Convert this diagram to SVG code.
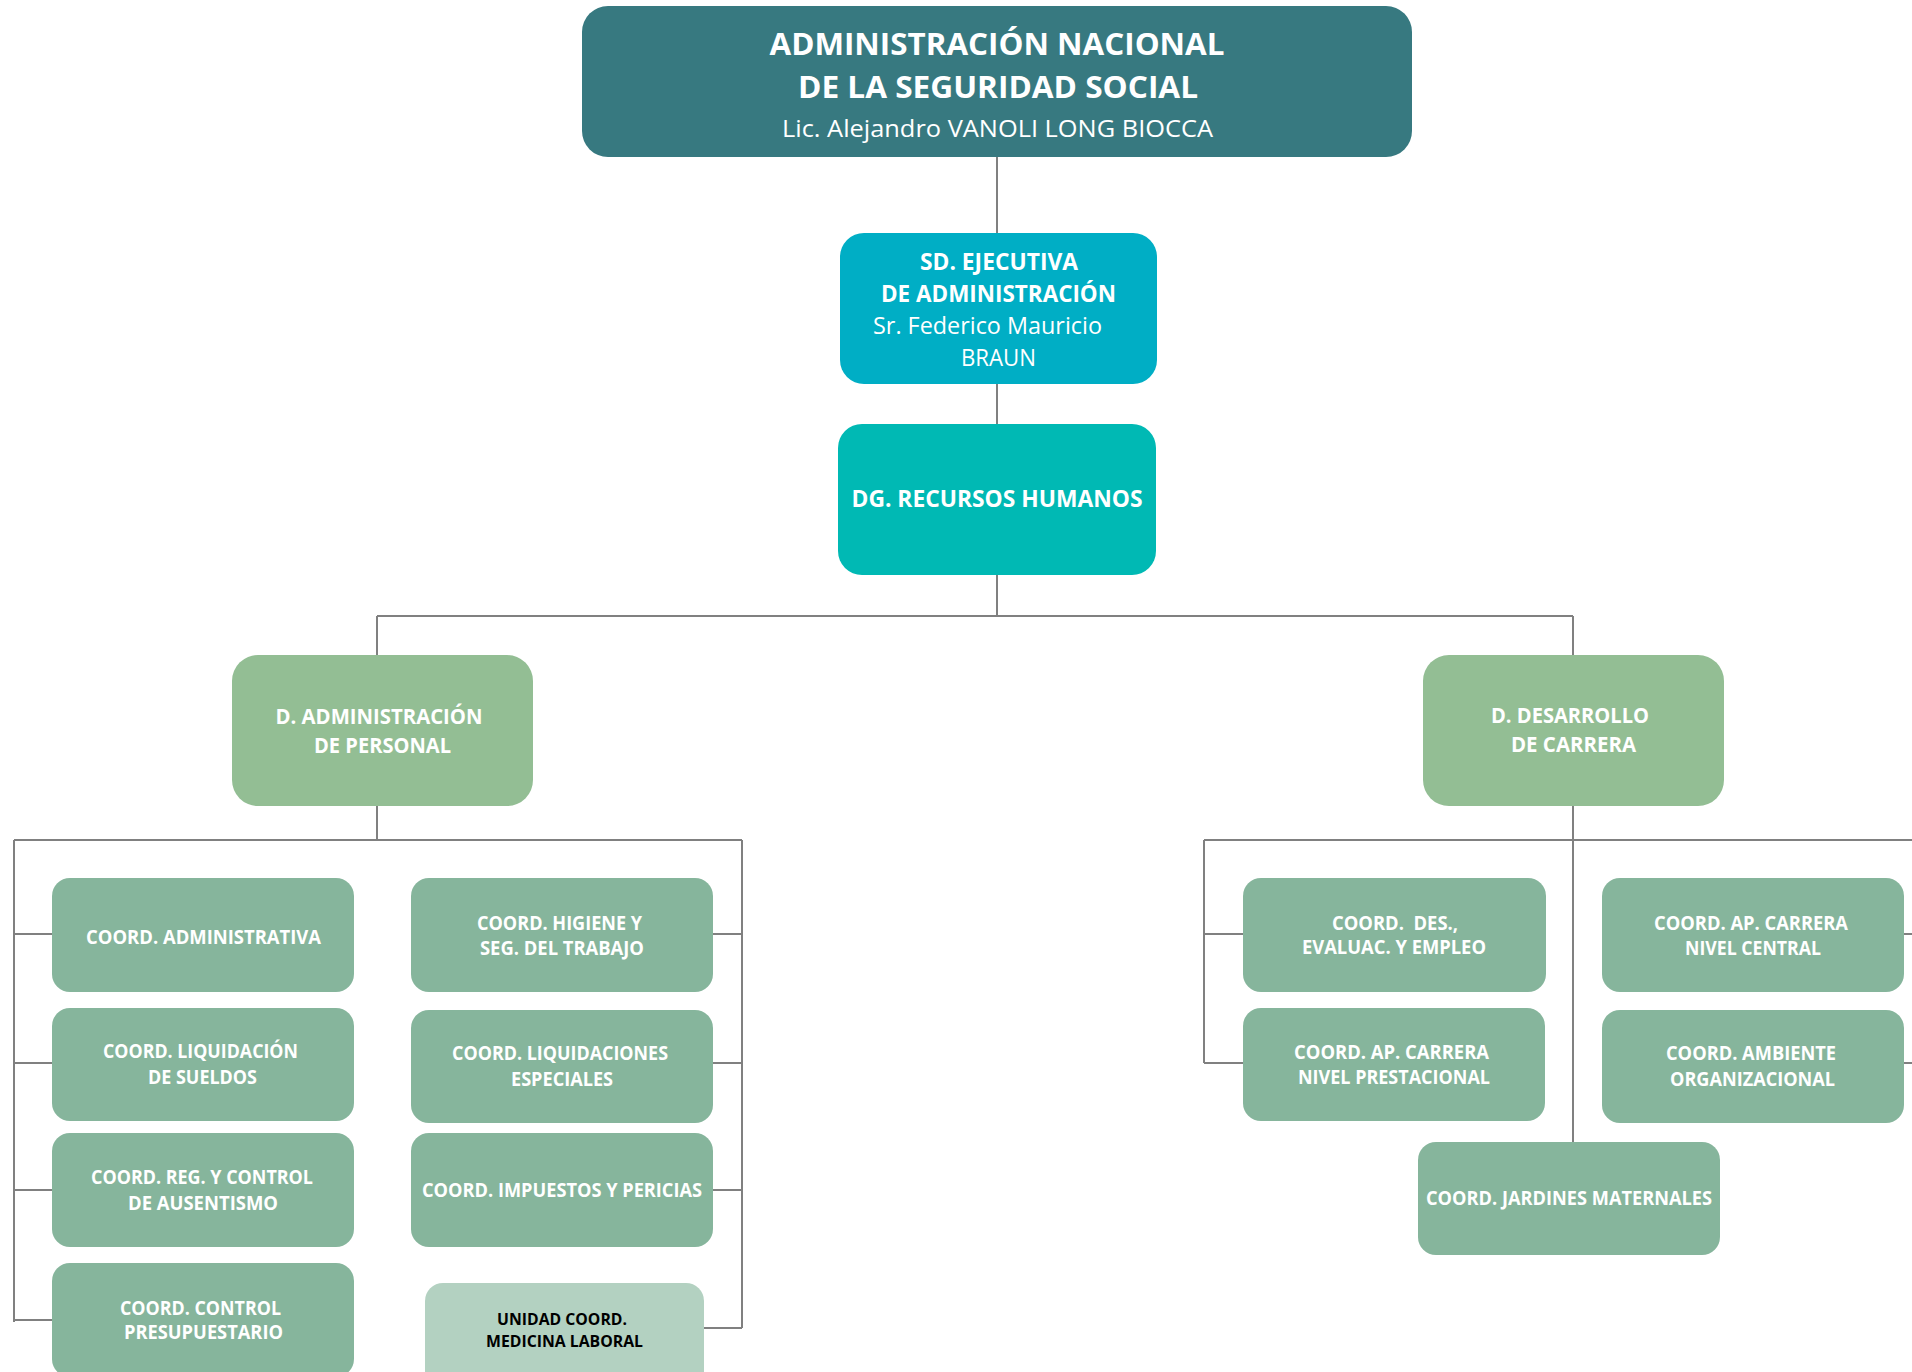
<svg xmlns="http://www.w3.org/2000/svg" width="1912" height="1372" viewBox="0 0 1912 1372">
<style>
.t{font-family:"Open Sans","Noto Sans","Liberation Sans",sans-serif;fill:#ffffff;text-anchor:middle}
.b{font-weight:bold}
.top{fill:#377980}
.sd{fill:#00AEC5}
.dg{fill:#00B9B4}
.d{fill:#93BE94}
.c{fill:#86B59C}
.u{fill:#B3D1C1}
.ln{stroke:#808080;stroke-width:2;fill:none}
.f30{font-size:30px}.f24{font-size:24px}.f23{font-size:23px}.f20{font-size:20.5px}.f18{font-size:19.5px}.f16{font-size:16.5px}
</style>
<rect width="1912" height="1372" fill="#ffffff"/>
<g id="connectors" class="ln">
<path d="M997 157V233M997 384V424M997 575V616M377 616H1573M377 616V655M1573 616V655"/>
<path d="M377 806V840M14 840H742M14 840V1322M742 840V1328M14 934H52M14 1063H52M14 1190H52M14 1320H52M713 934H742M713 1063H742M713 1190H742M704 1328H742"/>
<path d="M1573 806V1142M1204 840H1912M1204 840V1063M1204 934H1243M1204 1063H1243M1904 934H1912M1904 1063H1912"/>
</g>
<g id="n-anses">
<rect class="top" x="582" y="6" width="830" height="151" rx="26"/>
<text class="t b f30" x="997" y="55" textLength="455" lengthAdjust="spacingAndGlyphs">ADMINISTRACIÓN NACIONAL</text>
<text class="t b f30" x="998" y="98" textLength="400" lengthAdjust="spacingAndGlyphs">DE LA SEGURIDAD SOCIAL</text>
<text class="t f24" x="997.5" y="137" textLength="431" lengthAdjust="spacingAndGlyphs">Lic. Alejandro VANOLI LONG BIOCCA</text>
</g>
<g id="n-sd">
<rect class="sd" x="840" y="233" width="317" height="151" rx="24"/>
<text class="t b f23" x="999" y="270" textLength="158" lengthAdjust="spacingAndGlyphs">SD. EJECUTIVA</text>
<text class="t b f23" x="998.5" y="302" textLength="235" lengthAdjust="spacingAndGlyphs">DE ADMINISTRACIÓN</text>
<text class="t f23" x="987.5" y="334" textLength="229" lengthAdjust="spacingAndGlyphs">Sr. Federico Mauricio</text>
<text class="t f23" x="998.5" y="366" textLength="75" lengthAdjust="spacingAndGlyphs">BRAUN</text>
</g>
<g id="n-dg">
<rect class="dg" x="838" y="424" width="318" height="151" rx="24"/>
<text class="t b f23" x="997" y="507" textLength="291" lengthAdjust="spacingAndGlyphs">DG. RECURSOS HUMANOS</text>
</g>
<g id="n-dap">
<rect class="d" x="232" y="655" width="301" height="151" rx="26"/>
<text class="t b f20" x="379" y="724" textLength="207" lengthAdjust="spacingAndGlyphs">D. ADMINISTRACIÓN</text>
<text class="t b f20" x="382.5" y="753" textLength="137" lengthAdjust="spacingAndGlyphs">DE PERSONAL</text>
</g>
<g id="n-ddc">
<rect class="d" x="1423" y="655" width="301" height="151" rx="26"/>
<text class="t b f20" x="1570" y="723" textLength="158" lengthAdjust="spacingAndGlyphs">D. DESARROLLO</text>
<text class="t b f20" x="1573.5" y="752" textLength="125" lengthAdjust="spacingAndGlyphs">DE CARRERA</text>
</g>
<g id="n-cadm">
<rect class="c" x="52" y="878" width="302" height="114" rx="18"/>
<text class="t b f18" x="203.5" y="944" textLength="235" lengthAdjust="spacingAndGlyphs">COORD. ADMINISTRATIVA</text>
</g>
<g id="n-chig">
<rect class="c" x="411" y="878" width="302" height="114" rx="18"/>
<text class="t b f18" x="559.5" y="930" textLength="165" lengthAdjust="spacingAndGlyphs">COORD. HIGIENE Y</text>
<text class="t b f18" x="562" y="955" textLength="164" lengthAdjust="spacingAndGlyphs">SEG. DEL TRABAJO</text>
</g>
<g id="n-cliq">
<rect class="c" x="52" y="1008" width="302" height="113" rx="18"/>
<text class="t b f18" x="200.5" y="1058" textLength="195" lengthAdjust="spacingAndGlyphs">COORD. LIQUIDACIÓN</text>
<text class="t b f18" x="202.5" y="1084" textLength="109" lengthAdjust="spacingAndGlyphs">DE SUELDOS</text>
</g>
<g id="n-cliqesp">
<rect class="c" x="411" y="1010" width="302" height="113" rx="18"/>
<text class="t b f18" x="560" y="1060" textLength="216" lengthAdjust="spacingAndGlyphs">COORD. LIQUIDACIONES</text>
<text class="t b f18" x="562" y="1086" textLength="102" lengthAdjust="spacingAndGlyphs">ESPECIALES</text>
</g>
<g id="n-creg">
<rect class="c" x="52" y="1133" width="302" height="114" rx="18"/>
<text class="t b f18" x="202" y="1184" textLength="222" lengthAdjust="spacingAndGlyphs">COORD. REG. Y CONTROL</text>
<text class="t b f18" x="203" y="1210" textLength="150" lengthAdjust="spacingAndGlyphs">DE AUSENTISMO</text>
</g>
<g id="n-cimp">
<rect class="c" x="411" y="1133" width="302" height="114" rx="18"/>
<text class="t b f18" x="562" y="1197" textLength="280" lengthAdjust="spacingAndGlyphs">COORD. IMPUESTOS Y PERICIAS</text>
</g>
<g id="n-cctrl">
<rect class="c" x="52" y="1263" width="302" height="114" rx="18"/>
<text class="t b f18" x="200.5" y="1315" textLength="161" lengthAdjust="spacingAndGlyphs">COORD. CONTROL</text>
<text class="t b f18" x="203.5" y="1339" textLength="159" lengthAdjust="spacingAndGlyphs">PRESUPUESTARIO</text>
</g>
<g id="n-umed">
<rect class="u" x="425" y="1283" width="279" height="114" rx="18"/>
<text class="t b f16" x="562" y="1325" textLength="130" lengthAdjust="spacingAndGlyphs" style="fill:#000000">UNIDAD COORD.</text>
<text class="t b f16" x="564.5" y="1347" textLength="157" lengthAdjust="spacingAndGlyphs" style="fill:#000000">MEDICINA LABORAL</text>
</g>
<g id="n-cdes">
<rect class="c" x="1243" y="878" width="303" height="114" rx="18"/>
<text class="t b f18" x="1395" y="930" textLength="126" lengthAdjust="spacingAndGlyphs" xml:space="preserve">COORD.  DES.,</text>
<text class="t b f18" x="1394" y="954" textLength="184" lengthAdjust="spacingAndGlyphs">EVALUAC. Y EMPLEO</text>
</g>
<g id="n-capc">
<rect class="c" x="1602" y="878" width="302" height="114" rx="18"/>
<text class="t b f18" x="1751" y="930" textLength="194" lengthAdjust="spacingAndGlyphs">COORD. AP. CARRERA</text>
<text class="t b f18" x="1753" y="955" textLength="136" lengthAdjust="spacingAndGlyphs">NIVEL CENTRAL</text>
</g>
<g id="n-capp">
<rect class="c" x="1243" y="1008" width="302" height="113" rx="18"/>
<text class="t b f18" x="1391.5" y="1059" textLength="195" lengthAdjust="spacingAndGlyphs">COORD. AP. CARRERA</text>
<text class="t b f18" x="1394" y="1084" textLength="192" lengthAdjust="spacingAndGlyphs">NIVEL PRESTACIONAL</text>
</g>
<g id="n-camb">
<rect class="c" x="1602" y="1010" width="302" height="113" rx="18"/>
<text class="t b f18" x="1751" y="1060" textLength="170" lengthAdjust="spacingAndGlyphs">COORD. AMBIENTE</text>
<text class="t b f18" x="1752.5" y="1086" textLength="165" lengthAdjust="spacingAndGlyphs">ORGANIZACIONAL</text>
</g>
<g id="n-cjar">
<rect class="c" x="1418" y="1142" width="302" height="113" rx="18"/>
<text class="t b f18" x="1569" y="1205" textLength="286" lengthAdjust="spacingAndGlyphs">COORD. JARDINES MATERNALES</text>
</g>
</svg>
